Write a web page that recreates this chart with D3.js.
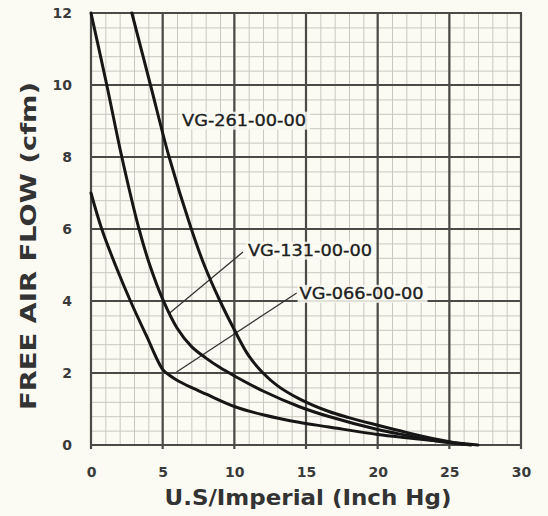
<!DOCTYPE html>
<html>
<head>
<meta charset="utf-8">
<script src="https://cdn.jsdelivr.net/npm/d3@7"></script>
<style>
  html, body { margin: 0; padding: 0; background: #fbfbf3; }
  svg { display: block; }
</style>
</head>
<body>
<script>
// vacuum (inch Hg) and free air flow (cfm)
var vacuum066 = [0, 0.75, 1.7, 2.75, 3.85, 5, 5.5, 6, 7, 8, 10, 12, 14.5, 16.6, 20, 22, 25, 27];
var flow066   = [7, 6, 5, 4, 3.05, 2.1, 1.93, 1.8, 1.6, 1.42, 1.07, 0.84, 0.63, 0.5, 0.29, 0.2, 0.08, 0];

var vacuum131 = [0, 1.1, 2.15, 3.35, 4.1, 5, 6, 7, 8, 9, 10, 12, 14.5, 16.6, 20, 22, 24, 26.5];
var flow131   = [12, 10, 8, 6, 5, 4.05, 3.25, 2.74, 2.42, 2.15, 1.92, 1.5, 1.07, 0.79, 0.43, 0.27, 0.12, 0];

var vacuum261 = [2.85, 4.15, 5.45, 7, 7.9, 9, 10, 11, 12, 13, 14.5, 16.6, 18, 20, 22, 24, 26];
var flow261   = [12, 10, 8, 6, 5, 4, 3.2, 2.48, 2.0, 1.65, 1.29, 0.93, 0.76, 0.55, 0.35, 0.17, 0.02];

var seriesNames = ["VG-066-00-00", "VG-131-00-00", "VG-261-00-00"];

var xTicks = [0, 5, 10, 15, 20, 25, 30];
var yTicks = [0, 2, 4, 6, 8, 10, 12];

var xTitle = "U.S/Imperial (Inch Hg)";
var yTitle = "FREE AIR FLOW (cfm)";

function init() {
    var width = 548;
    var height = 516;

    var svg = d3.select("body").append("svg")
        .attr("width", width)
        .attr("height", height);

    svg.append("rect")
        .attr("width", width)
        .attr("height", height)
        .attr("fill", "#fbfbf3");

    var x = d3.scaleLinear().domain([0, 30]).range([91, 521]);
    var y = d3.scaleLinear().domain([0, 12]).range([445, 13]);
    var plotH = y(0) - y(12);
    var plotW = x(30) - x(0);

    // minor grid (1 inch Hg by 0.4 cfm)
    var minorX = svg.append("g")
        .attr("transform", "translate(0," + y(0) + ")")
        .call(d3.axisBottom(x).tickValues(d3.range(0, 31, 1)).tickSize(-plotH).tickFormat(""));
    var minorY = svg.append("g")
        .attr("transform", "translate(" + x(0) + ",0)")
        .call(d3.axisLeft(y).tickValues(d3.range(0, 30).map(function(i) { return i * 0.4; })).tickSize(-plotW).tickFormat(""));
    [minorX, minorY].forEach(function(g) {
        g.select(".domain").remove();
        g.selectAll("line").attr("stroke", "#c9c7c0").attr("stroke-width", 1);
    });

    // major grid
    svg.append("g").selectAll("line")
        .data(xTicks)
        .join("line")
        .attr("x1", function(d) { return x(d); })
        .attr("x2", function(d) { return x(d); })
        .attr("y1", y(12))
        .attr("y2", y(0) + 4)
        .attr("stroke", "#4a4a48")
        .attr("stroke-width", 2.2);
    svg.append("g").selectAll("line")
        .data(yTicks)
        .join("line")
        .attr("x1", x(0) - 1)
        .attr("x2", x(30) + 1)
        .attr("y1", function(d) { return y(d); })
        .attr("y2", function(d) { return y(d); })
        .attr("stroke", "#4a4a48")
        .attr("stroke-width", 2.2);

    // tick labels
    var xAxis = svg.append("g")
        .attr("transform", "translate(0," + y(0) + ")")
        .call(d3.axisBottom(x).tickValues(xTicks).tickSize(0).tickPadding(22));
    var yAxis = svg.append("g")
        .attr("transform", "translate(" + x(0) + ",0)")
        .call(d3.axisLeft(y).tickValues(yTicks).tickSize(0).tickPadding(19));
    [xAxis, yAxis].forEach(function(g) {
        g.select(".domain").remove();
        g.selectAll("text")
            .attr("font-family", "DejaVu Sans, sans-serif")
            .attr("font-weight", "bold")
            .attr("font-size", 14)
            .attr("fill", "#3a3a3a");
    });

    // axis titles
    svg.append("text")
        .attr("x", 308)
        .attr("y", 505)
        .attr("text-anchor", "middle")
        .attr("font-family", "DejaVu Sans, sans-serif")
        .attr("font-weight", "bold")
        .attr("font-size", 21)
        .attr("fill", "#333")
        .attr("textLength", 287)
        .attr("lengthAdjust", "spacingAndGlyphs")
        .text(xTitle);

    svg.append("text")
        .attr("transform", "translate(36,246) rotate(-90)")
        .attr("text-anchor", "middle")
        .attr("font-family", "DejaVu Sans, sans-serif")
        .attr("font-weight", "bold")
        .attr("font-size", 22)
        .attr("fill", "#333")
        .attr("textLength", 328)
        .attr("lengthAdjust", "spacingAndGlyphs")
        .text(yTitle);

    // series
    var series = [
        { name: seriesNames[0], xs: vacuum066, ys: flow066 },
        { name: seriesNames[1], xs: vacuum131, ys: flow131 },
        { name: seriesNames[2], xs: vacuum261, ys: flow261 }
    ];

    // label placement (data coords): text left/middle, leader end on the curve
    var labelSpots = [
        { at: [14.55, 4.22], leader: [[14.35, 4.22], [5.97, 2.03]] },
        { at: [10.95, 5.42], leader: [[10.6, 5.36], [5.49, 3.67]] },
        { at: [6.35, 9.03], leader: null }
    ];

    var labelLayer = svg.append("g");
    var leaderLayer = svg.append("g");
    var curveLayer = svg.append("g");
    var textLayer = svg.append("g");

    var line = d3.line()
        .x(function(d) { return x(d[0]); })
        .y(function(d) { return y(d[1]); })
        .curve(d3.curveCatmullRom.alpha(0.5));

    curveLayer.selectAll("path")
        .data(series)
        .join("path")
        .attr("d", function(s) { return line(s.xs.map(function(v, i) { return [v, s.ys[i]]; })); })
        .attr("fill", "none")
        .attr("stroke", "#161616")
        .attr("stroke-width", 3)
        .attr("stroke-linecap", "round");

    series.forEach(function(s, i) {
        var spot = labelSpots[i];
        var t = textLayer.append("text")
            .attr("x", x(spot.at[0]))
            .attr("y", y(spot.at[1]))
            .attr("dy", "0.36em")
            .attr("font-family", "DejaVu Sans, sans-serif")
            .attr("font-size", 16)
            .attr("fill", "#1e1e1e")
            .attr("stroke", "#1e1e1e")
            .attr("stroke-width", 0.35)
            .attr("textLength", 124)
            .attr("lengthAdjust", "spacingAndGlyphs")
            .text(s.name);
        var bb = t.node().getBBox();
        labelLayer.append("rect")
            .attr("x", bb.x - 2)
            .attr("y", bb.y + 1)
            .attr("width", bb.width + 6)
            .attr("height", bb.height - 1)
            .attr("fill", "#fbfbf3")
            .attr("opacity", 0.85);
        if (spot.leader) {
            leaderLayer.append("line")
                .attr("x1", x(spot.leader[0][0]))
                .attr("y1", y(spot.leader[0][1]))
                .attr("x2", x(spot.leader[1][0]))
                .attr("y2", y(spot.leader[1][1]))
                .attr("stroke", "#333")
                .attr("stroke-width", 1.3);
        }
    });
}

window.onload = init;
</script>
</body>
</html>
